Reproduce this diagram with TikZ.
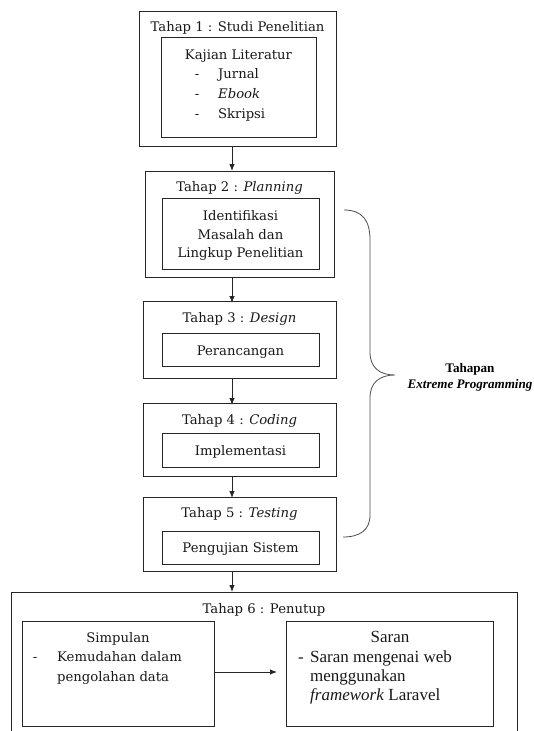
\documentclass[tikz,border=0pt]{standalone}
\usepackage{fontspec}
\setmainfont{DejaVu Serif}
\newfontfamily\timesf{Liberation Serif}
\usetikzlibrary{arrows.meta}
\begin{document}
\begin{tikzpicture}[x=1pt,y=-1pt,
  box/.style={draw=black!85, line width=0.9pt, inner sep=0pt, outer sep=0pt, fill=none},
  txt/.style={font=\fontsize{13.2}{19}\selectfont, inner sep=0pt, anchor=mid, text=black!90, yshift=-3pt},
  ttxt/.style={font=\timesf\fontsize{17}{19}\selectfont, inner sep=0pt, anchor=mid, text=black!90, yshift=-3pt},
  lbl/.style={font=\timesf\bfseries\fontsize{13.1}{16}\selectfont, inner sep=0pt, anchor=mid, text=black, yshift=-3pt},
  arr/.style={draw=black!85, line width=0.9pt, -{Latex[length=7pt,width=5.5pt]}},
  brace/.style={draw=black!70, line width=0.8pt}]
\useasboundingbox (0,0) rectangle (534,731);
\clip (0,0) rectangle (534,731);
\fill[white] (0,0) rectangle (534,731);

% Tahap 1
\node[box, minimum width=197pt, minimum height=135pt] (b1) at (237.5,78.5) {};
\node[txt] (t1) at (237.5,26) {Tahap 1 : Studi Penelitian};
\node[box, minimum width=155pt, minimum height=100pt] (i1) at (238.5,87) {};
\node[txt] (k1) at (238.5,54) {Kajian Literatur};
\node[txt] (d1a) at (197,73) {-};
\node[txt] (d1b) at (197,93) {-};
\node[txt] (d1c) at (197,113) {-};
\node[txt, anchor=mid west] (l1a) at (218,73) {Jurnal};
\node[txt, anchor=mid west] (l1b) at (218,93) {\textit{Ebook}};
\node[txt, anchor=mid west] (l1c) at (218,113) {Skripsi};

% Tahap 2
\node[box, minimum width=189pt, minimum height=106pt] (b2) at (239.5,224) {};
\node[txt] (t2) at (239.5,186) {Tahap 2 : \textit{Planning}};
\node[box, minimum width=157pt, minimum height=71pt] (i2) at (240.5,233.5) {};
\node[txt] (i2a) at (240.5,215) {Identifikasi};
\node[txt] (i2b) at (240.5,233.5) {Masalah dan};
\node[txt] (i2c) at (240.5,252) {Lingkup Penelitian};

% Tahap 3
\node[box, minimum width=193pt, minimum height=77pt] (b3) at (239.5,339.5) {};
\node[txt] (t3) at (239.5,317) {Tahap 3 : \textit{Design}};
\node[box, minimum width=157pt, minimum height=33pt] (i3) at (240.5,349.5) {};
\node[txt] (i3a) at (240.5,350) {Perancangan};

% Tahap 4
\node[box, minimum width=193pt, minimum height=73pt] (b4) at (239.5,439.5) {};
\node[txt] (t4) at (239.5,419) {Tahap 4 : \textit{Coding}};
\node[box, minimum width=157pt, minimum height=34pt] (i4) at (240.5,450) {};
\node[txt] (i4a) at (240.5,449.5) {Implementasi};

% Tahap 5
\node[box, minimum width=193pt, minimum height=74pt] (b5) at (239.5,534) {};
\node[txt] (t5) at (239.5,512) {Tahap 5 : \textit{Testing}};
\node[box, minimum width=157pt, minimum height=33pt] (i5) at (240.5,547.5) {};
\node[txt] (i5a) at (240.5,547) {Pengujian Sistem};

% Tahap 6
\node[box, minimum width=506pt, minimum height=160pt] (b6) at (264,672) {};
\node[txt] (t6) at (264,608) {Tahap 6 : Penutup};
\node[box, minimum width=192pt, minimum height=105pt] (simp) at (118,673.5) {};
\node[txt] (s0) at (118,637) {Simpulan};
\node[txt] (sd) at (35,656) {-};
\node[txt, anchor=mid west] (s1) at (57,656) {Kemudahan dalam};
\node[txt, anchor=mid west] (s2) at (57,676) {pengolahan data};
\node[box, minimum width=207pt, minimum height=105pt] (saran) at (389.5,673.5) {};
\node[ttxt] (r0) at (390,637) {Saran};
\node[ttxt] (rd) at (301,657) {-};
\node[ttxt, anchor=mid west] (r1) at (310,657) {Saran mengenai web};
\node[ttxt, anchor=mid west] (r2) at (310,676) {menggunakan};
\node[ttxt, anchor=mid west] (r3) at (310,695) {\textit{framework} Laravel};

% arrows
\coordinate (ax) at (232,0);
\coordinate (hy) at (0,672);
\draw[arr] (b1.south -| ax) -- (b2.north -| ax);
\draw[arr] (b2.south -| ax) -- ([yshift=-2pt]b3.north -| ax);
\draw[arr] (b3.south -| ax) -- ([yshift=-2pt]b4.north -| ax);
\draw[arr] (b4.south -| ax) -- ([yshift=-1pt]b5.north -| ax);
\draw[arr] (b5.south -| ax) -- (b6.north -| ax);
\draw[arr] (simp.east |- hy) -- ([xshift=-9pt]saran.west |- hy);

% brace
\coordinate (bt) at (344,210);
\coordinate (btip) at (395,375);
\coordinate (bb) at (343,537);
\draw[brace] (bt) .. controls (362,210) and (370,220) .. (370,240)
  -- (370,352) .. controls (370,368) and (380,375) .. (btip)
  .. controls (380,375) and (370,382) .. (370,398)
  -- (370,515) .. controls (370,530) and (360,537) .. (bb);
\node[lbl] (tp) at (470,367) {Tahapan};
\node[lbl] (xp) at (470,383) {\itshape Extreme Programming};
\end{tikzpicture}
\end{document}
